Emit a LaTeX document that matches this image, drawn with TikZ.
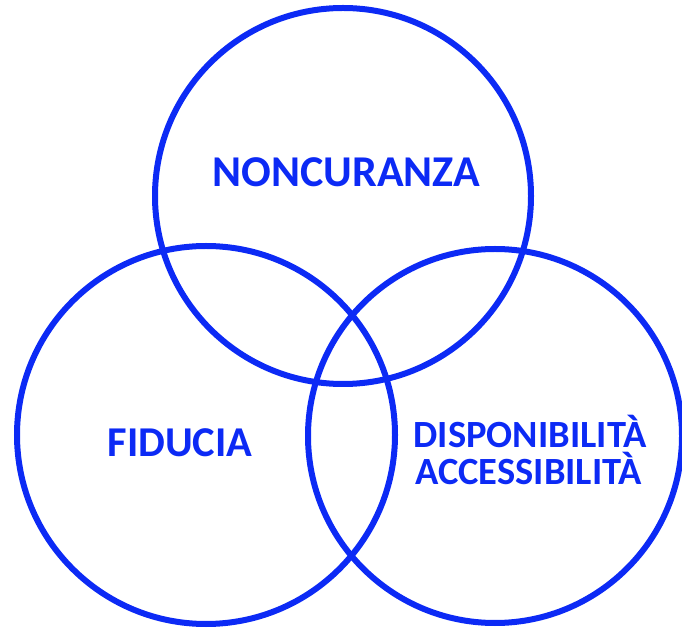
\documentclass[tikz,border=0pt]{standalone}
\usepackage{fontspec}
\setmainfont{Carlito}
\definecolor{vblue}{RGB}{12,42,245}
\tikzset{
  ring/.style={draw=vblue, line width=6pt},
  lbl/.style={text=vblue, inner sep=0pt, anchor=base}
}
\begin{document}
\begin{tikzpicture}[x=1pt,y=1pt]
\useasboundingbox (0,0) rectangle (682,629);
\draw[ring] (343,433) circle[radius=188] coordinate (ctop);
\draw[ring] (206,194) circle[radius=189] coordinate (cleft);
\draw[ring] (495,193) circle[radius=187] coordinate (cright);
\node[lbl, font=\fontsize{44}{44}\selectfont\bfseries] (noncuranza) at (346.5,442) {NONCURANZA};
\node[lbl, font=\fontsize{42.5}{42.5}\selectfont\bfseries] (fiducia) at (180,172) {FIDUCIA};
\node[lbl, font=\fontsize{38.5}{38.5}\selectfont\bfseries] (disp) at (530,181) {DISPONIBILITÀ};
\node[lbl, font=\fontsize{38.5}{38.5}\selectfont\bfseries] (acc) at (528.5,144) {ACCESSIBILITÀ};
\end{tikzpicture}
\end{document}
